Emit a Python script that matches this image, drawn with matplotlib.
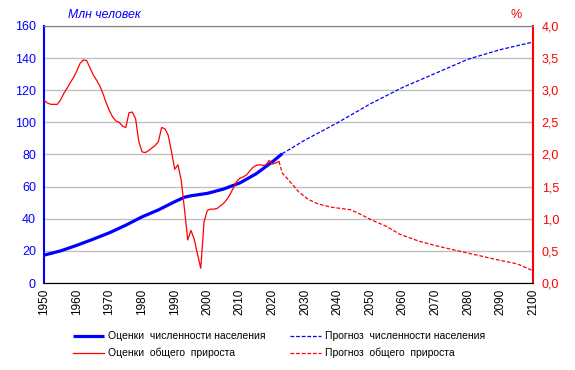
import numpy as np
import matplotlib.pyplot as plt

# численность населения, млн (оценки и прогноз)
pop_years = [1950, 1955, 1960, 1965, 1970, 1975, 1980, 1985, 1990, 1993, 1995,
             2000, 2005, 2010, 2015, 2020, 2023]
pop_est = [17.4, 20.0, 23.5, 27.3, 31.3, 36.0, 41.2, 45.5, 50.6, 53.4, 54.3,
           55.8, 58.5, 62.3, 68.0, 75.5, 80.5]
prog_years = [2023, 2030, 2040, 2050, 2060, 2070, 2080, 2090, 2100]
pop_prog = [80.5, 89.0, 99.8, 111.5, 121.8, 130.5, 139.3, 145.3, 150.0]

# общий прирост, %
gr_years = list(range(1950, 2023))
gr_est = [2.84, 2.80, 2.78, 2.78, 2.78, 2.85, 2.95, 3.03, 3.12, 3.20,
          3.30, 3.42, 3.47, 3.46, 3.35, 3.24, 3.16, 3.07, 2.95, 2.80,
          2.68, 2.58, 2.52, 2.50, 2.44, 2.42, 2.65, 2.66, 2.56, 2.20,
          2.04, 2.03, 2.06, 2.10, 2.14, 2.20, 2.42, 2.40, 2.30, 2.05,
          1.77, 1.84, 1.60, 1.15, 0.67, 0.82, 0.68, 0.45, 0.23, 0.95,
          1.13, 1.15, 1.15, 1.16, 1.20, 1.24, 1.30, 1.38, 1.48, 1.58,
          1.63, 1.65, 1.68, 1.74, 1.80, 1.83, 1.84, 1.83, 1.84, 1.91,
          1.85, 1.87, 1.89]
gr_prog_years = [2022, 2023, 2025, 2028, 2031, 2034, 2038, 2044, 2047, 2050,
                 2055, 2059, 2065, 2071, 2077, 2084, 2090, 2095, 2100]
gr_prog = [1.89, 1.71, 1.60, 1.42, 1.30, 1.23, 1.18, 1.14, 1.07, 0.99,
           0.88, 0.76, 0.65, 0.57, 0.50, 0.42, 0.35, 0.30, 0.19]

xticks = list(range(1950, 2101, 10))

blue = '#0000FF'
red = '#FF0000'

plt.rcParams['font.family'] = ['Liberation Sans', 'DejaVu Sans']

fig = plt.figure(figsize=(5.75, 3.7), dpi=100)
ax = fig.add_axes([0.077, 0.235, 0.8505, 0.695])
ax2 = ax.twinx()

l1, = ax.plot(pop_years, pop_est, color=blue, lw=2.3, solid_capstyle='butt')
l2, = ax.plot(prog_years, pop_prog, color=blue, lw=0.9, ls=(0, (3, 1.5)))
l3, = ax2.plot(gr_years, gr_est, color=red, lw=0.9)
l4, = ax2.plot(gr_prog_years, gr_prog, color=red, lw=0.9, ls=(0, (3, 1.5)))

ax.set_xlim(1950, 2100)
ax.set_ylim(0, 160)
ax2.set_ylim(0, 4)
ax.set_yticks(range(0, 161, 20))
ax2.set_yticks(np.arange(0, 4.01, 0.5))
ax2.set_yticklabels([f'{v:.1f}'.replace('.', ',') for v in np.arange(0, 4.01, 0.5)])
ax.set_xticks(xticks)
ax.set_xticklabels([str(x) for x in xticks], rotation=90, fontsize=8.5)

ax.grid(axis='y', color='#C0C0C0', lw=1)
ax.set_axisbelow(True)
ax.tick_params(axis='y', colors=blue, labelsize=9, length=0, pad=6)
ax2.tick_params(axis='y', colors=red, labelsize=9, length=0, pad=6)
ax.tick_params(axis='x', length=0, pad=4, labelcolor='black')

ax.spines['left'].set_color(blue)
ax.spines['left'].set_linewidth(1.5)
ax2.spines['left'].set_visible(False)
ax2.spines['right'].set_color(red)
ax2.spines['right'].set_linewidth(1.5)
ax.spines['right'].set_visible(False)
ax2.spines['top'].set_color('#808080')
ax.spines['top'].set_color('#808080')
ax2.spines['bottom'].set_color('black')

fig.text(0.118, 0.96, 'Млн человек', color=blue, style='italic', fontsize=8.8,
         va='center')
fig.text(0.887, 0.96, '%', color=red, fontsize=9, va='center')

fig.legend([l1, l3, l2, l4],
           ['Оценки  численности населения', 'Оценки  общего  прироста',
            'Прогноз  численности населения', 'Прогноз  общего  прироста'],
           ncol=2, frameon=False, fontsize=7.5, loc='center left',
           bbox_to_anchor=(0.11, 0.068), handlelength=3.0, handletextpad=0.35,
           columnspacing=2.4, labelspacing=0.6)

fig.savefig('out.png', dpi=100)
